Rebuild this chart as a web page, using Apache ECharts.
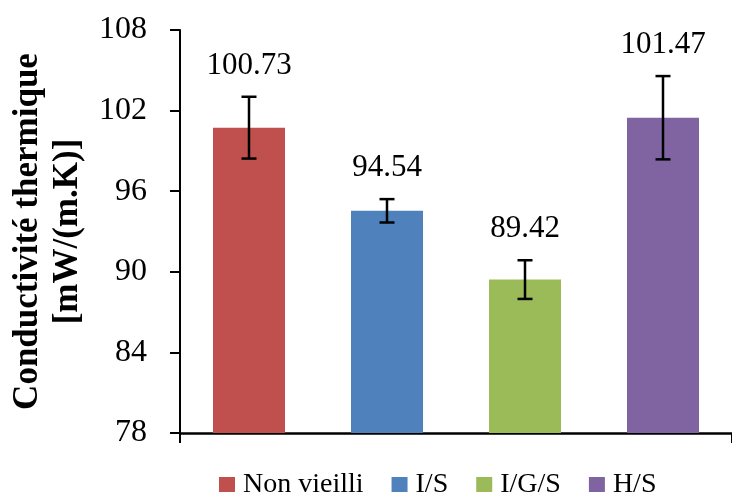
<!DOCTYPE html>
<html>
<head>
<meta charset="utf-8">
<script src="https://cdn.jsdelivr.net/npm/echarts@6/dist/echarts.min.js"></script>
<style>html,body{margin:0;padding:0;background:#fff}#c{width:732px;height:492px}</style>
</head>
<body>
<div id="c"></div>
<script>
const categories = ['Non vieilli', 'I/S', 'I/G/S', 'H/S'];
const values = [100.73, 94.54, 89.42, 101.47];
const errors = [2.3, 0.87, 1.44, 3.1];
const colors = ['#C0504D', '#4F81BD', '#9BBB59', '#8064A2'];
const yTicks = { min: 78, max: 108, interval: 6 };
const yTitle = 'Conductivité thermique\n[mW/(m.K)]';

const FONT = '"Liberation Serif", "Times New Roman", serif';
const chart = echarts.init(document.getElementById('c'), null, { renderer: 'canvas' });

const barSeries = categories.map((name, i) => ({
  name: name,
  type: 'bar',
  barWidth: 72,
  barGap: '-100%',
  itemStyle: { color: colors[i] },
  data: categories.map((c, j) => (j === i ? values[i] : '-')),
  animation: false
}));

const errSeries = {
  type: 'custom',
  name: 'err',
  data: values.map((v, i) => [i, v, errors[i]]),
  renderItem: function (params, api) {
    const x = api.value(0), v = api.value(1), e = api.value(2);
    const top = api.coord([x, v + e]);
    const bot = api.coord([x, v - e]);
    const cw = 7.5;
    const st = { stroke: '#000', lineWidth: 2.5 };
    return {
      type: 'group',
      children: [
        { type: 'line', shape: { x1: top[0], y1: top[1], x2: bot[0], y2: bot[1] }, style: st },
        { type: 'line', shape: { x1: top[0] - cw, y1: top[1], x2: top[0] + cw, y2: top[1] }, style: st },
        { type: 'line', shape: { x1: bot[0] - cw, y1: bot[1], x2: bot[0] + cw, y2: bot[1] }, style: st },
        { type: 'text', x: top[0], y: top[1] - 31,
          style: { text: v.toFixed(2), fill: '#000', font: '31px ' + FONT, align: 'center', verticalAlign: 'middle' } }
      ]
    };
  },
  z: 10,
  animation: false
};

chart.setOption({
  backgroundColor: '#fff',
  animation: false,
  grid: { left: 180, right: -8, top: 30, bottom: 59 },
  legend: {
    data: categories,
    left: 214,
    top: 466,
    icon: 'rect',
    itemWidth: 16,
    itemHeight: 16,
    itemGap: 28,
    textStyle: { fontFamily: FONT, fontSize: 28, color: '#000', lineHeight: 28, padding: [0, 0, 0, 3] }
  },
  xAxis: {
    type: 'category',
    data: categories,
    axisLine: { lineStyle: { color: '#000', width: 2.5 } },
    axisTick: { show: true, length: 10, interval: function (i) { return i === 0; }, lineStyle: { color: '#000', width: 2 } },
    axisLabel: { show: false },
    splitLine: { show: false }
  },
  yAxis: {
    type: 'value',
    min: yTicks.min,
    max: yTicks.max,
    interval: yTicks.interval,
    axisLine: { show: true, lineStyle: { color: '#000', width: 2 } },
    axisTick: { show: true, length: 10, lineStyle: { color: '#000', width: 2 } },
    axisLabel: { fontFamily: FONT, fontSize: 32, color: '#000', margin: 33 },
    splitLine: { show: false },
    name: yTitle,
    nameLocation: 'middle',
    nameRotate: 90,
    nameGap: 92,
    nameTextStyle: { fontFamily: FONT, fontSize: 35, fontWeight: 'bold', color: '#000', lineHeight: 40 }
  },
  series: barSeries.concat([errSeries])
});
</script>
</body>
</html>
